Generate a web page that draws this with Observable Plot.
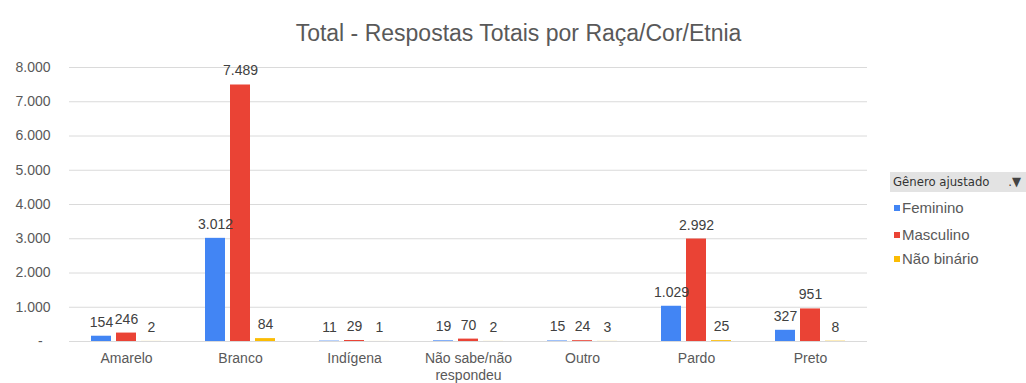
<!DOCTYPE html>
<html>
<head>
<meta charset="utf-8">
<script src="https://cdn.jsdelivr.net/npm/d3@7"></script>
<script src="https://cdn.jsdelivr.net/npm/@observablehq/plot@0.6"></script>
<style>
  html, body { margin: 0; padding: 0; background: #fff; }
  #wrap { position: relative; width: 1026px; height: 383px; overflow: hidden; font-family: "Liberation Sans", Arial, sans-serif; }
  #title { position: absolute; left: 0; top: 20px; width: 1037px; text-align: center; font-size: 23px; line-height: 26px; color: #595959; }
  #chart { position: absolute; left: 0; top: 0; }
  #legend { position: absolute; left: 890px; top: 172px; width: 136px; }
  #legend .hdr { height: 20px; line-height: 20px; background: #e3e3e3; font-family: "Liberation Sans Narrow", "DejaVu Sans Condensed", Arial, sans-serif; font-size: 13px; color: #333; padding-left: 3px; position: relative; }
  #legend .hdr .ic { position: absolute; right: 5px; top: 0; font-size: 13px; color: #444; }
  #legend .item { position: absolute; left: 4px; font-size: 15px; line-height: 16px; color: #595959; white-space: nowrap; }
  #legend .sw { display: inline-block; width: 6px; height: 6px; margin-right: 2px; vertical-align: 2px; }
</style>
</head>
<body>
<div id="wrap">
  <div id="title"></div>
  <div id="chart"></div>
  <div id="legend"></div>
</div>
<script>
const title = "Total - Respostas Totais por Raça/Cor/Etnia";
const legendTitle = "Gênero ajustado";
const categories = ["Amarelo", "Branco", "Indígena", "Não sabe/não\nrespondeu", "Outro", "Pardo", "Preto"];
const genders = ["Feminino", "Masculino", "Não binário"];
const feminino = [154, 3012, 11, 19, 15, 1029, 327];
const masculino = [246, 7489, 29, 70, 24, 2992, 951];
const naoBinario = [2, 84, 1, 2, 3, 25, 8];
const yTicks = [0, 1000, 2000, 3000, 4000, 5000, 6000, 7000, 8000];
const colors = ["#4285F4", "#EA4335", "#FBBC04"];

const series = [feminino, masculino, naoBinario];
const data = [];
categories.forEach((c, i) => {
  genders.forEach((g, j) => data.push({category: c, gender: g, value: series[j][i]}));
});

const br = d3.formatLocale({decimal: ",", thousands: ".", grouping: [3], currency: ["R$", ""]});
const fmt = br.format(",d");

document.getElementById("title").textContent = title;

const chart = Plot.plot({
  width: 1026,
  height: 383,
  marginTop: 67,
  marginBottom: 42,
  marginLeft: 67,
  marginRight: 157,
  style: {fontFamily: "'Liberation Sans', Arial, sans-serif", background: "transparent"},
  fx: {domain: categories, padding: 0, label: null, axis: null},
  x: {domain: genders, paddingInner: 0.19, paddingOuter: 0.8, axis: null},
  y: {domain: [0, 8000], label: null},
  color: {domain: genders, range: colors},
  marks: [
    Plot.ruleY(yTicks, {y: d => d, stroke: "#dadada", strokeWidth: 1}),
    Plot.axisY({ticks: yTicks, tickSize: 0, tickPadding: 19, fontSize: 14, fill: "#595959",
      tickFormat: d => d === 0 ? "-\u00a0\u00a0" : fmt(d), label: null}),
    Plot.axisFx({anchor: "bottom", tickSize: 0, tickPadding: 10, fontSize: 14, fill: "#595959", label: null, lineHeight: 1.2}),
    Plot.barY(data, {fx: "category", x: "gender", y: "value", fill: "gender"}),
    Plot.text(data, {fx: "category", x: "gender", y: "value", text: d => fmt(d.value),
      dy: -14, fontSize: 14, fill: "#404040"})
  ]
});
document.getElementById("chart").appendChild(chart);

const lg = document.getElementById("legend");
const hdr = document.createElement("div");
hdr.className = "hdr";
hdr.appendChild(document.createTextNode(legendTitle));
const ic = document.createElement("span");
ic.className = "ic";
ic.textContent = ".▼";
hdr.appendChild(ic);
lg.appendChild(hdr);
const tops = [28, 55, 79];
genders.forEach((g, i) => {
  const it = document.createElement("div");
  it.className = "item";
  it.style.top = tops[i] + "px";
  const sw = document.createElement("span");
  sw.className = "sw";
  sw.style.background = colors[i];
  it.appendChild(sw);
  it.appendChild(document.createTextNode(g));
  lg.appendChild(it);
});
</script>
</body>
</html>
